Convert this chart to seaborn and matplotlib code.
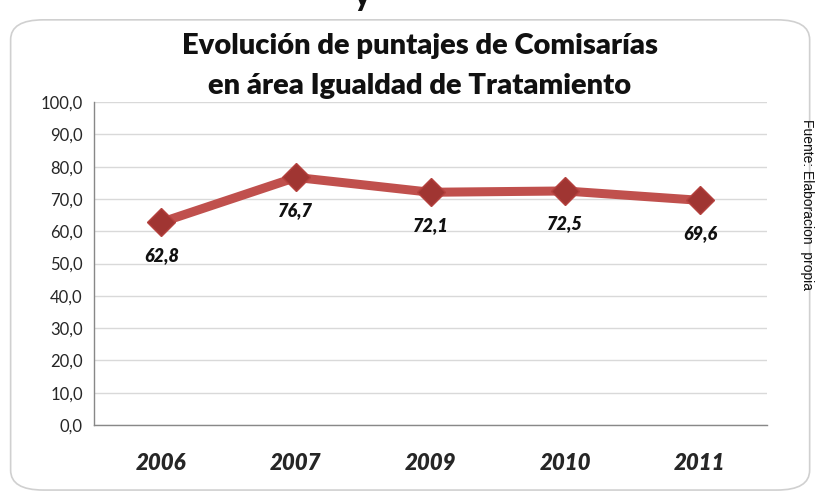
import matplotlib
matplotlib.use("Agg")
import matplotlib.pyplot as plt
from matplotlib.patches import FancyBboxPatch
import numpy as np
import pandas as pd
import seaborn as sns

years = ["2006", "2007", "2009", "2010", "2011"]
scores = [62.8, 76.7, 72.1, 72.5, 69.6]
y_ticks = [0, 10, 20, 30, 40, 50, 60, 70, 80, 90, 100]

df = pd.DataFrame({"year": years, "score": scores})

sns.set_theme(style="white")
plt.rcParams["font.family"] = ["Lato", "DejaVu Sans"]

fig = plt.figure(figsize=(8.17, 4.96), dpi=100)
ax = fig.add_axes([0.115, 0.143, 0.824, 0.651])

# chart frame
frame = FancyBboxPatch((0.013, 0.012), 0.978, 0.948, boxstyle="round,pad=0,rounding_size=0.04",
                       transform=fig.transFigure, facecolor="white", edgecolor="#d0d0d0",
                       linewidth=1.2, zorder=-10)
fig.patches.append(frame)
ax.set_facecolor("none")

sns.lineplot(data=df, x="year", y="score", ax=ax, color="#c0504d", linewidth=6.5,
             marker="D", markersize=14, markerfacecolor="#a03532",
             markeredgecolor="#b5413e", markeredgewidth=1, sort=False)

for i, v in enumerate(scores):
    ax.annotate(f"{v:.1f}".replace(".", ","), (i, v), xytext=(0, -33),
                textcoords="offset pixels",
                ha="center", va="center", fontsize=13, fontweight="heavy",
                fontstyle="italic", color="#111111")

ax.set_ylim(0, 100)
ax.set_xlim(-0.5, len(years) - 0.5)
ax.set_yticks(y_ticks)
ax.set_yticklabels([f"{t:.1f}".replace(".", ",") for t in y_ticks], fontsize=12)
ax.set_xticks(range(len(years)))
ax.set_xticklabels(years, fontsize=16, fontweight="heavy", fontstyle="italic")
ax.set_xticks(np.arange(-0.5, len(years), 1.0), minor=True)
ax.tick_params(axis="x", which="major", length=0, pad=20)
ax.tick_params(axis="x", which="minor", length=6, width=1, color="#888888", direction="out")
ax.tick_params(axis="y", length=5, width=1, color="#888888", direction="out", pad=3)
ax.grid(axis="y", color="#d9d9d9", linewidth=1)
ax.set_axisbelow(True)
ax.set_xlabel("")
ax.set_ylabel("")
for s in ["top", "right"]:
    ax.spines[s].set_visible(False)
for s in ["left", "bottom"]:
    ax.spines[s].set_color("#888888")
    ax.spines[s].set_linewidth(1)

fig.text(0.514, 0.907, "Evolución de puntajes de Comisarías", ha="center", va="center",
         fontsize=21, fontweight="heavy", color="#111111")
fig.text(0.514, 0.827, "en área Igualdad de Tratamiento", ha="center", va="center",
         fontsize=21, fontweight="heavy", color="#111111")
fig.text(0.988, 0.76, "Fuente: Elaboracion  propia", rotation=-90, ha="center", va="top",
         fontsize=10, color="#111111", family=["Liberation Sans", "DejaVu Sans"])
fig.text(0.443, 1.005, "y", ha="center", va="center", fontsize=20, fontweight="heavy", color="#111111")

fig.savefig("out.png", dpi=100)
